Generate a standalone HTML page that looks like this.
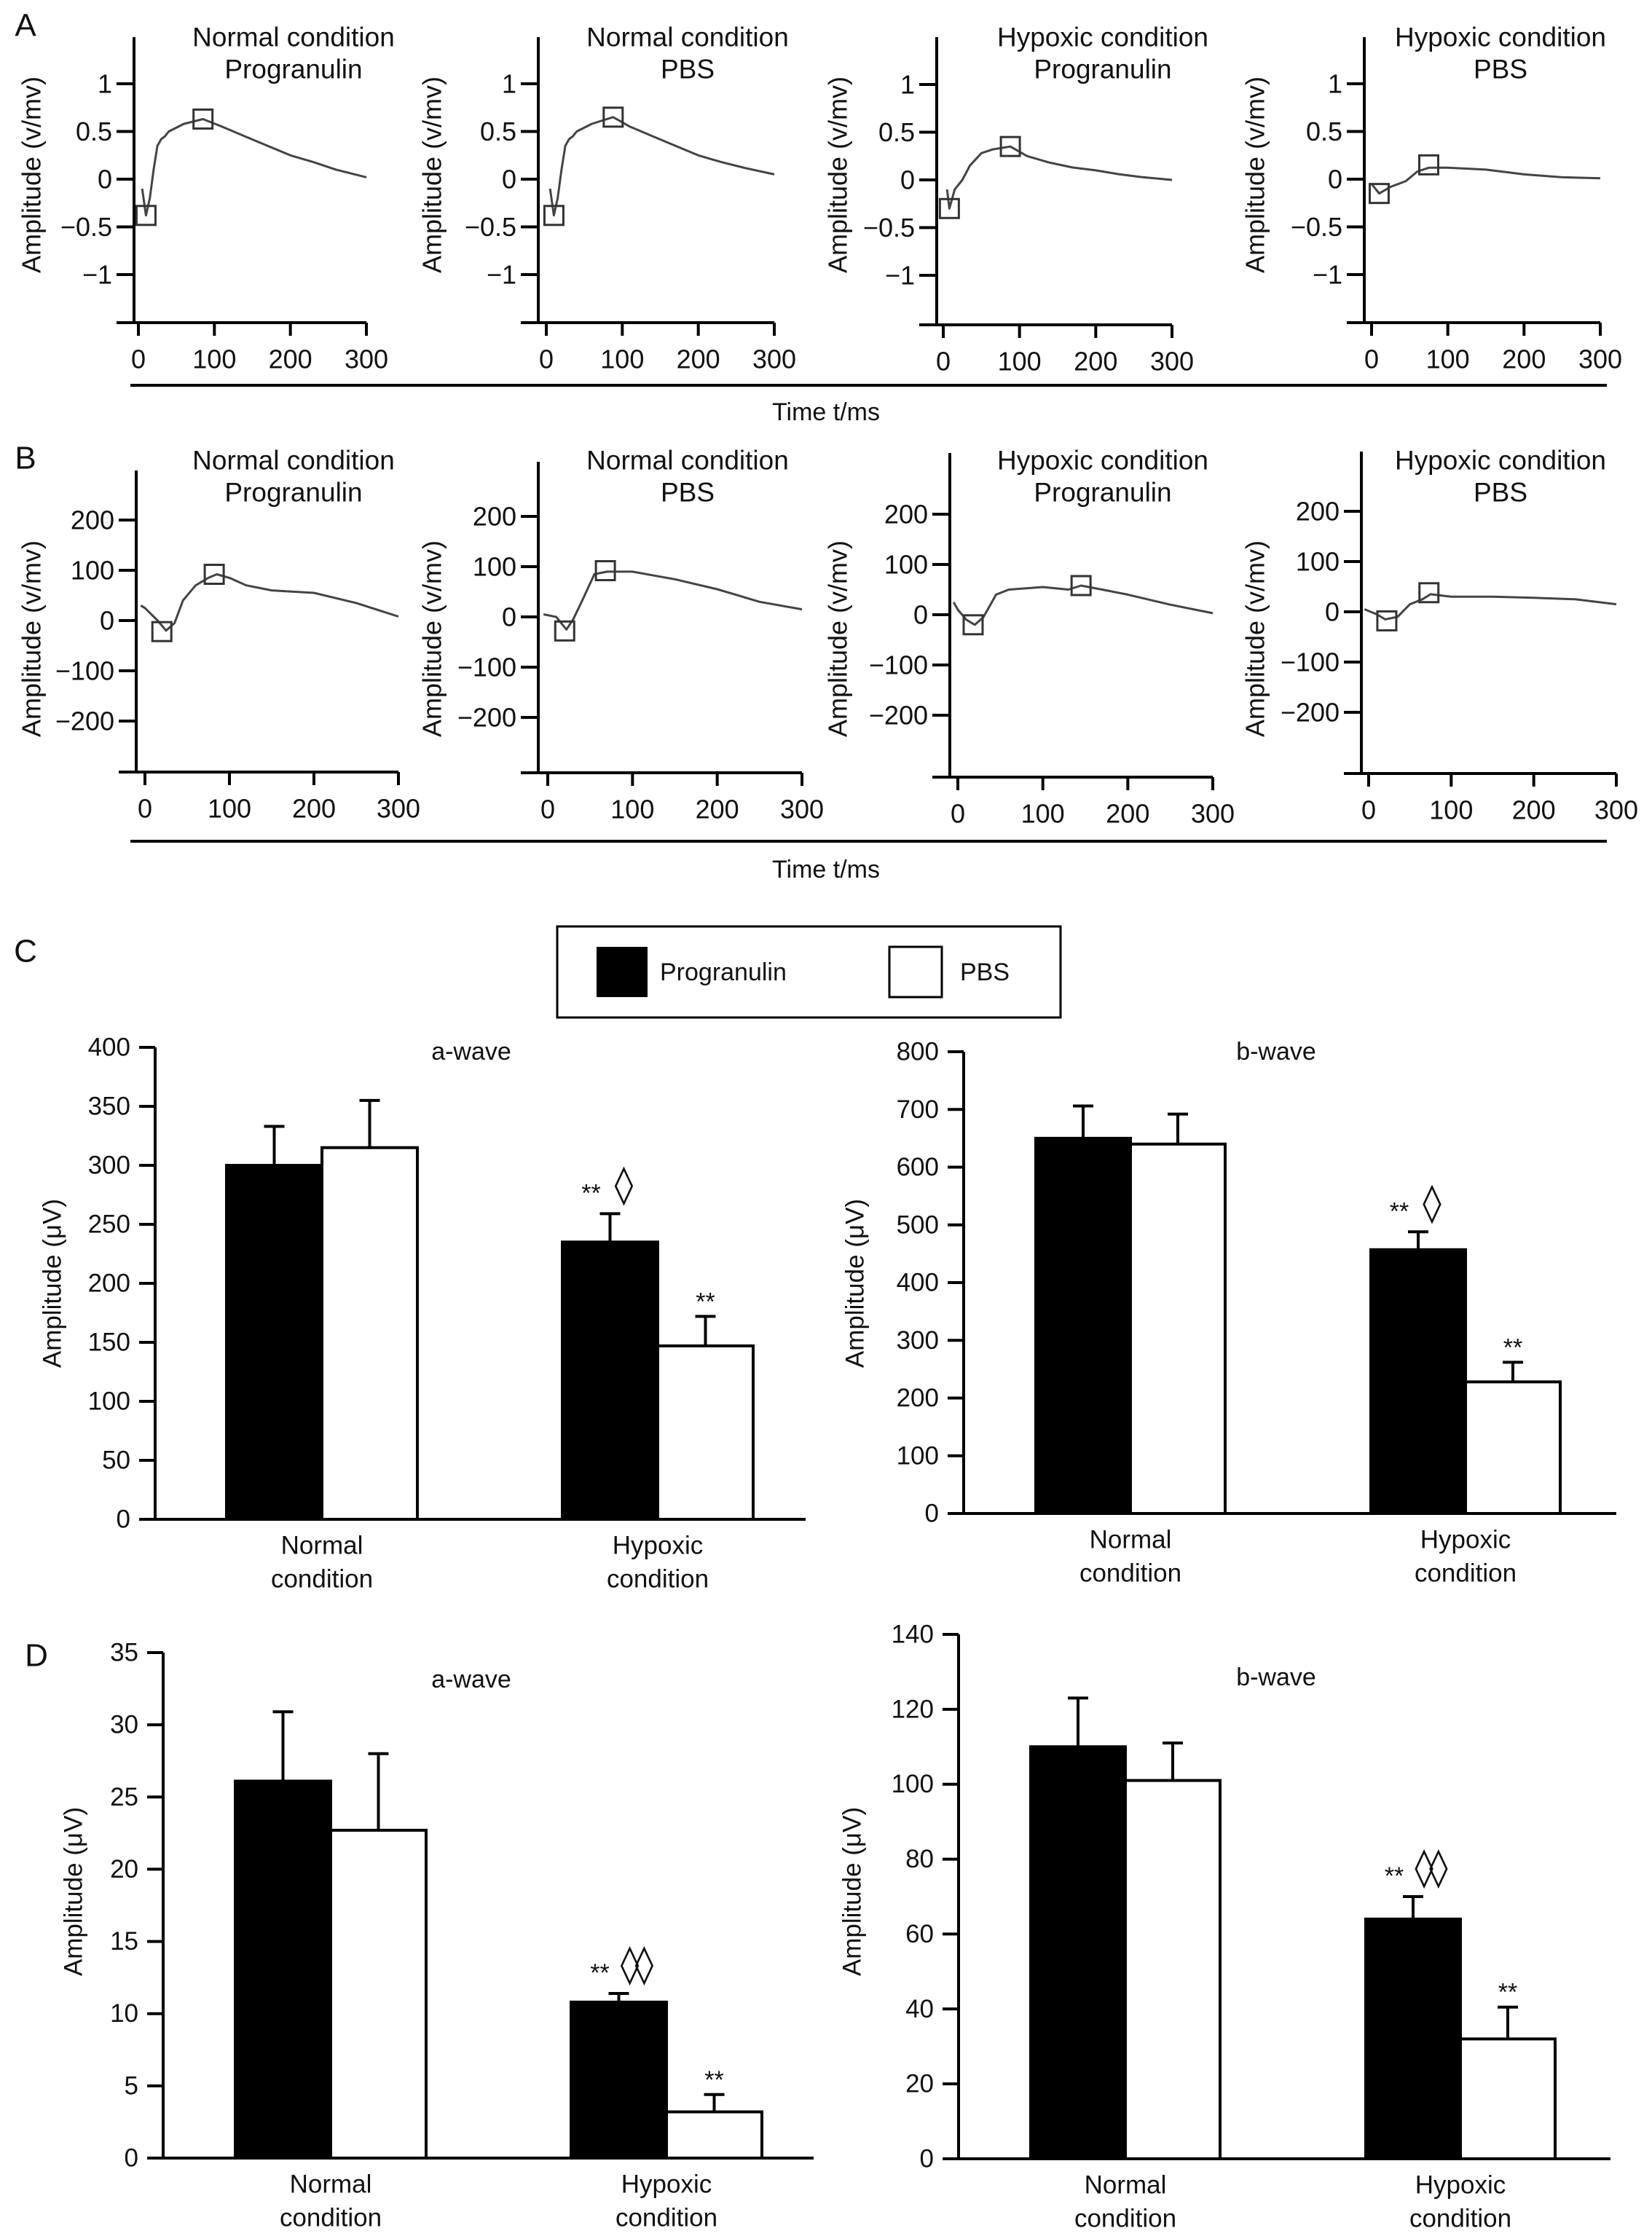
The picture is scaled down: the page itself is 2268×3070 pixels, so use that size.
<!DOCTYPE html>
<html><head><meta charset="utf-8"><style>
html,body{margin:0;padding:0;background:#fff;}
svg{display:block;font-family:"Liberation Sans",Arial,sans-serif;}
</style></head><body>
<svg id="fig" width="2268" height="3070" viewBox="0 0 2268 3070" xmlns="http://www.w3.org/2000/svg"></svg>
<script>
// ---- Trace data (time ms, amplitude) ----
const a1T=[5,10,15,20,25,30,35,40,60,85,110,140,170,200,230,260,300];
const a1V=[-0.1,-0.38,-0.2,0.1,0.35,0.42,0.45,0.5,0.58,0.63,0.55,0.45,0.35,0.25,0.18,0.1,0.02];
const a1M=[[10,-0.38],[85,0.63]];
const a2T=[5,10,15,20,25,30,35,40,60,88,110,140,170,200,230,260,300];
const a2V=[-0.1,-0.38,-0.2,0.1,0.35,0.42,0.45,0.5,0.58,0.65,0.55,0.45,0.35,0.25,0.18,0.12,0.05];
const a2M=[[10,-0.38],[88,0.65]];
const a3T=[5,8,15,25,35,50,65,88,110,140,170,200,230,260,300];
const a3V=[-0.1,-0.3,-0.1,0,0.15,0.28,0.32,0.35,0.25,0.18,0.13,0.1,0.06,0.03,0];
const a3M=[[8,-0.3],[88,0.35]];
const a4T=[0,10,25,45,60,75,100,150,200,250,300];
const a4V=[-0.05,-0.15,-0.08,-0.02,0.08,0.12,0.12,0.1,0.05,0.02,0.01];
const a4M=[[10,-0.15],[75,0.15]];
const b1T=[-5,0,15,25,35,45,60,75,85,100,120,150,200,250,300];
const b1V=[30,25,0,-20,-5,40,70,85,92,85,70,60,55,35,8];
const b1M=[[20,-22],[82,92]];
const b2T=[-5,10,22,30,40,55,70,100,150,200,250,300];
const b2V=[5,0,-25,-5,30,85,90,90,75,55,30,15];
const b2M=[[20,-28],[68,92]];
const b3T=[-5,0,10,20,30,45,60,100,130,145,170,200,250,300];
const b3V=[25,10,-10,-20,-5,40,50,55,50,58,50,40,20,3];
const b3M=[[18,-20],[145,58]];
const b4T=[-5,10,20,35,50,65,75,100,150,200,250,300];
const b4V=[5,-5,-15,-10,15,25,35,30,30,28,25,15];
const b4M=[[22,-18],[73,38]];
const aTicks=[1,0.5,0,-0.5,-1];
const aTickLabels=['1','0.5','0','\u22120.5','\u22121'];
const bTicks=[200,100,0,-100,-200];
const bTickLabels=['200','100','0','\u2212100','\u2212200'];
const xTicks=[0,100,200,300];
// ---- Bar data ----
const barCats=['Normal','Hypoxic'];
const cAProg=[300,235], cAProgErr=[333,259], cAPbs=[315,147], cAPbsErr=[355,172];
const cBProg=[650,457], cBProgErr=[706,488], cBPbs=[640,228], cBPbsErr=[692,262];
const dAProg=[26.1,10.8], dAProgErr=[30.9,11.4], dAPbs=[22.7,3.2], dAPbsErr=[28.0,4.4];
const dBProg=[110,64], dBProgErr=[123,70], dBPbs=[101,32], dBPbsErr=[111,40.5];
const cATicks=[0,50,100,150,200,250,300,350,400];
const cBTicks=[0,100,200,300,400,500,600,700,800];
const dATicks=[0,5,10,15,20,25,30,35];
const dBTicks=[0,20,40,60,80,100,120,140];

const NS='http://www.w3.org/2000/svg';
const svg=document.getElementById('fig');
function mk(tag,attrs,parent){const e=document.createElementNS(NS,tag);for(const k in attrs)e.setAttribute(k,attrs[k]);(parent||svg).appendChild(e);return e;}
function txt(x,y,s,size,anchor,parent,extra){const t=mk('text',Object.assign({x:x,y:y,'font-size':size,'text-anchor':anchor||'middle','dominant-baseline':'central',fill:'#111'},extra||{}),parent);t.textContent=s;return t;}

function tracePanel(c,T,V,M,ticks,labels,name){
  const g=mk('g',{});
  
  
  const sx=t=>c.x0+(t/300)*(c.x300-c.x0);
  const sy=v=>c.y0-v*c.unit;
  const ax=mk('path',{d:`M${c.ax},${c.top} V${c.xa} M${c.ax-24},${c.xa} H${c.x300}`,stroke:'#000','stroke-width':4,fill:'none'},g);
  
  
  ticks.forEach((v,i)=>{
    mk('line',{x1:c.ax-24,x2:c.ax,y1:sy(v),y2:sy(v),stroke:'#000','stroke-width':4},g);
    const t=txt(c.ax-30,sy(v),labels[i],36,'end',g);
    
    
  });
  xTicks.forEach(v=>{
    mk('line',{x1:sx(v),x2:sx(v),y1:c.xa,y2:c.xa+18,stroke:'#000','stroke-width':4},g);
    const t=txt(sx(v),c.xa+50,String(v),36,'middle',g);
    
    
  });
  const yl=txt(c.yl,c.ylY,'Amplitude (v/mv)',36,'middle',g,{transform:`rotate(-90 ${c.yl} ${c.ylY})`});
  
  
  const t1=txt(c.tx,c.ty,c.t1,37,'middle',g);
  
  
  const t2=txt(c.tx,c.ty+44,c.t2,37,'middle',g);
  
  
  const d=T.map((t,i)=>(i?'L':'M')+sx(t).toFixed(1)+','+sy(V[i]).toFixed(1)).join(' ');
  const p=mk('path',{d:d,stroke:'#444','stroke-width':3,fill:'none','stroke-linejoin':'round'},g);
  
  
  M.forEach(m=>{
    const r=mk('rect',{x:sx(m[0])-13,y:sy(m[1])-13,width:26,height:26,fill:'none',stroke:'#333','stroke-width':3},g);
    
    
  });
}
const fA={top:51,xa:443,y0:246,unit:131,ty:51};
tracePanel(Object.assign({},fA,{ax:184,x0:190,x300:503,yl:43,ylY:240,tx:403,t1:'Normal condition',t2:'Progranulin'}),a1T,a1V,a1M,aTicks,aTickLabels,'panel-a-normal-progranulin');
tracePanel(Object.assign({},fA,{ax:739,x0:750,x300:1063,yl:593,ylY:240,tx:944,t1:'Normal condition',t2:'PBS'}),a2T,a2V,a2M,aTicks,aTickLabels,'panel-a-normal-pbs');
tracePanel(Object.assign({},fA,{ax:1286,x0:1295,x300:1609,xa:446,y0:247,yl:1150,ylY:240,tx:1514,t1:'Hypoxic condition',t2:'Progranulin'}),a3T,a3V,a3M,aTicks,aTickLabels,'panel-a-hypoxic-progranulin');
tracePanel(Object.assign({},fA,{ax:1873,x0:1883,x300:2197,yl:1723,ylY:240,tx:2060,t1:'Hypoxic condition',t2:'PBS'}),a4T,a4V,a4M,aTicks,aTickLabels,'panel-a-hypoxic-pbs');
const u=0.69;
tracePanel({ax:187,top:646,xa:1060,y0:852,unit:u,x0:199,x300:547,yl:43,ylY:877,tx:403,ty:632,t1:'Normal condition',t2:'Progranulin'},b1T,b1V,b1M,bTicks,bTickLabels,'panel-b-normal-progranulin');
tracePanel({ax:739,top:634,xa:1061,y0:847,unit:u,x0:752,x300:1101,yl:593,ylY:877,tx:944,ty:632,t1:'Normal condition',t2:'PBS'},b2T,b2V,b2M,bTicks,bTickLabels,'panel-b-normal-pbs');
tracePanel({ax:1304,top:622,xa:1067,y0:844,unit:u,x0:1315,x300:1665,yl:1150,ylY:877,tx:1514,ty:632,t1:'Hypoxic condition',t2:'Progranulin'},b3T,b3V,b3M,bTicks,bTickLabels,'panel-b-hypoxic-progranulin');
tracePanel({ax:1869,top:620,xa:1062,y0:840,unit:u,x0:1879,x300:2219,yl:1723,ylY:877,tx:2060,ty:632,t1:'Hypoxic condition',t2:'PBS'},b4T,b4V,b4M,bTicks,bTickLabels,'panel-b-hypoxic-pbs');

[[529,566],[1155,1194]].forEach((s,i)=>{
  const l=mk('line',{x1:179,x2:2206,y1:s[0],y2:s[0],stroke:'#000','stroke-width':4});
  
  
  const t=txt(1134,s[1],'Time t/ms',34,'middle');
  
  
});
[['A',35,35],['B',35,629],['C',35,1306],['D',50,2273]].forEach(p=>{
  const t=txt(p[1],p[2],p[0],44,'middle');
  
  
});
(function(){
  const g=mk('g',{});
  
  
  mk('rect',{x:765,y:1272,width:691,height:125,fill:'#fff',stroke:'#000','stroke-width':3},g);
  const s1=mk('rect',{x:819,y:1300,width:70,height:69,fill:'#000'},g);
  
  
  const t1=txt(906,1335,'Progranulin',34,'start',g);
  
  
  const s2=mk('rect',{x:1221,y:1300,width:72,height:69,fill:'#fff',stroke:'#000','stroke-width':3},g);
  
  
  const t2=txt(1318,1335,'PBS',34,'start',g);
  
  
})();

function barChart(c,prog,progErr,pbs,pbsErr,ticks,name){
  const g=mk('g',{});
  
  
  const ymax=ticks[ticks.length-1];
  const sy=v=>c.y0-(v/ymax)*(c.y0-c.ytop);
  const ax=mk('path',{d:`M${c.ax},${c.ytop} V${c.y0} M${c.ax-22},${c.y0} H${c.xend}`,stroke:'#000','stroke-width':4,fill:'none'},g);
  
  
  ticks.forEach(v=>{
    mk('line',{x1:c.ax-22,x2:c.ax,y1:sy(v),y2:sy(v),stroke:'#000','stroke-width':4},g);
    const t=txt(c.ax-34,sy(v),String(v),35,'end',g);
    
    
  });
  const yl=txt(c.yl,c.ylY,'Amplitude (\u03bcV)',35,'middle',g,{transform:`rotate(-90 ${c.yl} ${c.ylY})`});
  
  
  const ti=txt(c.tx,c.ty,c.title,34,'middle',g);
  
  
  barCats.forEach((cat,i)=>{
    const left=c.g0+i*c.gap;
    [[prog,progErr,'#000','progranulin',0],[pbs,pbsErr,'#fff','pbs',1]].forEach(s=>{
      const x=left+s[4]*c.w, v=s[0][i], e=s[1][i];
      const cx=x+c.w/2;
      const el=mk('line',{x1:cx,x2:cx,y1:sy(v),y2:sy(e),stroke:'#000','stroke-width':4},g);
      
      
      mk('line',{x1:cx-14,x2:cx+14,y1:sy(e),y2:sy(e),stroke:'#000','stroke-width':4},g);
      const r=mk('rect',{x:x,y:sy(v),width:c.w,height:c.y0-sy(v),fill:s[2],stroke:'#000','stroke-width':4},g);
      
      
    });
    const t1=txt(left+c.w,c.y0+36,cat,35,'middle',g);
    
    
    const t2=txt(left+c.w,c.y0+82,'condition',35,'middle',g);
    
    
  });
  const hl=c.g0+c.gap;
  const pc=hl+c.w/2;
  const a1=txt(pc-26,sy(progErr[1])-28,'**',34,'middle',g);
  
  
  const a2=txt(pc+(c.dia.length>1?22:16),sy(progErr[1])-40,c.dia,52,'middle',g,{'font-family':'DejaVu Sans, sans-serif','letter-spacing':'-6'});
  
  
  const a3=txt(hl+c.w*1.5,sy(pbsErr[1])-20,'**',34,'middle',g);
  
  
}
barChart({ax:213,ytop:1438,y0:2086,xend:1106,g0:311,gap:461,w:131,yl:72,ylY:1762,tx:647,ty:1444,title:'a-wave',dia:'\u25ca'},cAProg,cAProgErr,cAPbs,cAPbsErr,cATicks,'chart-c-a-wave');
barChart({ax:1323,ytop:1444,y0:2078,xend:2219,g0:1422,gap:460,w:130,yl:1174,ylY:1762,tx:1752,ty:1444,title:'b-wave',dia:'\u25ca'},cBProg,cBProgErr,cBPbs,cBPbsErr,cBTicks,'chart-c-b-wave');
barChart({ax:224,ytop:2269,y0:2963,xend:1117,g0:323,gap:461,w:131,yl:101,ylY:2597,tx:647,ty:2306,title:'a-wave',dia:'\u25ca\u25ca'},dAProg,dAProgErr,dAPbs,dAPbsErr,dATicks,'chart-d-a-wave');
barChart({ax:1316,ytop:2244,y0:2964,xend:2211,g0:1415,gap:460,w:130,yl:1170,ylY:2597,tx:1752,ty:2303,title:'b-wave',dia:'\u25ca\u25ca'},dBProg,dBProgErr,dBPbs,dBPbsErr,dBTicks,'chart-d-b-wave');
</script>
</body></html>
